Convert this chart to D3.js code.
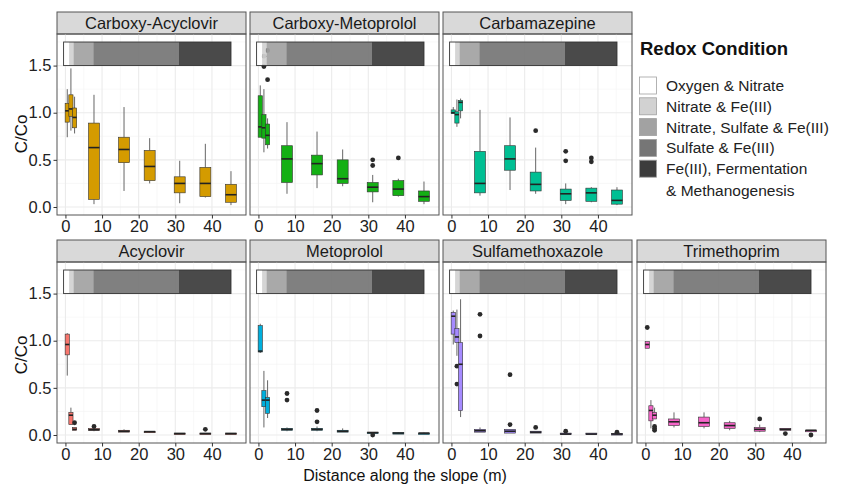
<!DOCTYPE html>
<html>
<head>
<meta charset="utf-8">
<script src="https://cdn.jsdelivr.net/npm/d3@7"></script>
<style>
  body { margin: 0; background: #fff; }
  svg { font-family: "Liberation Sans", Arial, sans-serif; }
</style>
</head>
<body>
<div id="chart"></div>
<script>
// compounds, in facet order
var compounds = ["Carboxy-Acyclovir", "Carboxy-Metoprolol", "Carbamazepine",
  "Acyclovir", "Metoprolol", "Sulfamethoxazole", "Trimethoprim"];

// sampling distances along the slope (m)
var distances = [0.5, 1.5, 2.5, 7.8, 16, 23, 31.2, 38.2, 45.2];

// box stats per distance: [lower whisker, q1, median, q3, upper whisker]
var carboxyAcyclovir = [
  [0.74, 0.90, 1.02, 1.10, 1.25], [0.81, 0.96, 1.04, 1.19, 1.47], [0.78, 0.84, 0.95, 1.05, 1.17],
  [0.03, 0.08, 0.63, 0.89, 1.19], [0.17, 0.47, 0.61, 0.74, 1.06], [0.25, 0.28, 0.43, 0.60, 0.73],
  [0.04, 0.15, 0.25, 0.32, 0.49], [0.10, 0.11, 0.25, 0.42, 0.67], [0.02, 0.05, 0.13, 0.24, 0.38]];
var carboxyMetoprolol = [
  [0.74, 0.74, 0.85, 1.18, 1.29], [0.58, 0.73, 0.84, 0.98, 1.25], [0.62, 0.66, 0.76, 0.88, 0.94],
  [0.14, 0.26, 0.51, 0.65, 0.90], [0.20, 0.34, 0.46, 0.55, 0.80], [0.22, 0.25, 0.30, 0.50, 0.61],
  [0.05, 0.16, 0.21, 0.26, 0.34], [0.11, 0.12, 0.19, 0.28, 0.30], [0.03, 0.06, 0.11, 0.17, 0.27]];
var carbamazepine = [
  [0.99, 0.99, 1.00, 1.03, 1.06], [0.85, 0.89, 0.98, 1.01, 1.14], [0.94, 1.02, 1.11, 1.13, 1.15],
  [0.12, 0.15, 0.25, 0.59, 1.03], [0.18, 0.39, 0.51, 0.65, 0.95], [0.14, 0.17, 0.24, 0.37, 0.63],
  [0.03, 0.07, 0.14, 0.19, 0.25], [0.05, 0.06, 0.15, 0.20, 0.21], [0.02, 0.03, 0.07, 0.18, 0.21]];
var acyclovir = [
  [0.63, 0.85, 0.96, 1.07, 1.08], [0.11, 0.11, 0.21, 0.24, 0.29], [0.05, 0.05, 0.06, 0.08, 0.08],
  [0.04, 0.05, 0.055, 0.07, 0.07], [0.03, 0.03, 0.04, 0.05, 0.06], [0.025, 0.03, 0.035, 0.04, 0.04],
  [0.01, 0.012, 0.015, 0.02, 0.02], [0.01, 0.012, 0.015, 0.02, 0.02], [0.01, 0.01, 0.015, 0.02, 0.02]];
var metoprolol = [
  [0.87, 0.88, 0.89, 1.16, 1.18], [0.08, 0.30, 0.37, 0.47, 0.68], [0.18, 0.23, 0.37, 0.40, 0.58],
  [0.04, 0.05, 0.06, 0.07, 0.08], [0.04, 0.05, 0.06, 0.07, 0.09], [0.03, 0.03, 0.04, 0.05, 0.07],
  [0.015, 0.02, 0.025, 0.03, 0.03], [0.01, 0.015, 0.02, 0.025, 0.03], [0.01, 0.015, 0.02, 0.02, 0.025]];
var sulfamethoxazole = [
  [0.96, 1.07, 1.26, 1.30, 1.32], [0.84, 0.98, 1.04, 1.13, 1.33], [0.19, 0.26, 0.75, 0.98, 1.44],
  [0.03, 0.03, 0.045, 0.06, 0.08], [0.02, 0.02, 0.04, 0.06, 0.06], [0.02, 0.02, 0.03, 0.04, 0.04],
  [0.005, 0.008, 0.01, 0.02, 0.02], [0.005, 0.008, 0.01, 0.02, 0.02], [0.005, 0.007, 0.01, 0.015, 0.02]];
var trimethoprim = [
  [0.92, 0.92, 0.96, 0.99, 0.99], [0.07, 0.15, 0.26, 0.31, 0.37], [0.17, 0.17, 0.21, 0.24, 0.29],
  [0.08, 0.10, 0.14, 0.17, 0.24], [0.07, 0.09, 0.13, 0.19, 0.24], [0.05, 0.07, 0.10, 0.13, 0.15],
  [0.03, 0.04, 0.06, 0.08, 0.11], [0.05, 0.05, 0.06, 0.07, 0.07], [0.04, 0.04, 0.05, 0.05, 0.05]];

// outliers per distance
var carboxyAcyclovirOut = [[], [], [], [], [], [], [], [], []];
var carboxyMetoprololOut = [[], [1.49, 1.60], [1.35, 1.66], [], [], [], [0.50, 0.44], [0.52], []];
var carbamazepineOut = [[], [], [], [], [], [0.81], [0.59, 0.49], [0.52, 0.48], []];
var acyclovirOut = [[], [], [0.13], [0.09], [], [], [], [0.06], []];
var metoprololOut = [[], [], [], [0.44, 0.37], [0.26, 0.14], [], [0.0], [], []];
var sulfamethoxazoleOut = [[], [0.73, 0.54], [], [1.28, 1.05], [0.64, 0.11], [0.08], [0.04], [], [0.03]];
var trimethoprimOut = [[1.14], [], [0.09, 0.07, 0.05], [], [], [], [0.17], [0.015], [0.0]];

// redox zones along the slope
var redoxLabels = ["Oxygen & Nitrate", "Nitrate & Fe(III)", "Nitrate, Sulfate & Fe(III)",
  "Sulfate & Fe(III)", "Fe(III), Fermentation & Methanogenesis"];
var redoxBreaks = [-0.5, 1, 2.2, 7.6, 31, 45.2];
var redoxBand = [1.5, 1.75];

var xTicks = [0, 10, 20, 30, 40];
var yTicks = [0, 0.5, 1, 1.5];

var stats = [carboxyAcyclovir, carboxyMetoprolol, carbamazepine, acyclovir, metoprolol, sulfamethoxazole, trimethoprim];
var outs = [carboxyAcyclovirOut, carboxyMetoprololOut, carbamazepineOut, acyclovirOut, metoprololOut, sulfamethoxazoleOut, trimethoprimOut];

var boxColors = ["#D49B00", "#14B014", "#00BF93", "#F8766D", "#00AFDD", "#A58AFF", "#F564C8"];
var redoxColors = ["#ffffff", "#d2d2d2", "#a2a2a2", "#767676", "#3c3c3c"];

var width = 841, height = 485;
var W = 189, stripH = 22, panelH = 181;
var colX = [57, 250, 443, 637];
var rowTop = [34, 262];

var svg = d3.select("#chart").append("svg")
  .attr("width", width)
  .attr("height", height);

var x = d3.scaleLinear().domain([-2.3, 49.3]).range([0, W]);
var y = d3.scaleLinear().domain([-0.085, 1.835]).range([panelH, 0]);

// box width: narrow where samples are close together
function boxWidth(i) {
  var gaps = [];
  if (i > 0) gaps.push(distances[i] - distances[i - 1]);
  if (i < distances.length - 1) gaps.push(distances[i + 1] - distances[i]);
  return Math.min(3, d3.min(gaps) * 1.15);
}

compounds.forEach(function (name, p) {
  var row = p < 3 ? 0 : 1;
  var col = p < 3 ? p : p - 3;
  var g = svg.append("g")
    .attr("transform", "translate(" + colX[col] + "," + rowTop[row] + ")");

  // strip
  g.append("rect")
    .attr("x", 0).attr("y", -stripH)
    .attr("width", W).attr("height", stripH)
    .attr("fill", "#d9d9d9").attr("stroke", "#555").attr("stroke-width", 1);
  g.append("text")
    .attr("x", W / 2).attr("y", -stripH / 2 + 6)
    .attr("text-anchor", "middle")
    .attr("font-size", 16.5)
    .attr("fill", "#1a1a1a")
    .text(name);

  // grid
  var minorX = d3.range(5, 50, 10), minorY = [0.25, 0.75, 1.25, 1.75];
  g.append("g").selectAll("line.mx").data(minorX).enter().append("line")
    .attr("x1", x).attr("x2", x).attr("y1", 0).attr("y2", panelH)
    .attr("stroke", "#f3f3f3").attr("stroke-width", 0.6);
  g.append("g").selectAll("line.my").data(minorY).enter().append("line")
    .attr("y1", y).attr("y2", y).attr("x1", 0).attr("x2", W)
    .attr("stroke", "#f3f3f3").attr("stroke-width", 0.6);
  g.append("g").selectAll("line.gx").data(xTicks).enter().append("line")
    .attr("x1", x).attr("x2", x).attr("y1", 0).attr("y2", panelH)
    .attr("stroke", "#ebebeb").attr("stroke-width", 1.1);
  g.append("g").selectAll("line.gy").data(yTicks).enter().append("line")
    .attr("y1", y).attr("y2", y).attr("x1", 0).attr("x2", W)
    .attr("stroke", "#ebebeb").attr("stroke-width", 1.1);

  // boxes
  stats[p].forEach(function (s, i) {
    var d = distances[i];
    var bw = boxWidth(i);
    var x0 = x(d - bw / 2), x1 = x(d + bw / 2), cx = x(d);
    var b = g.append("g");
    b.append("line")
      .attr("x1", cx).attr("x2", cx).attr("y1", y(s[0])).attr("y2", y(s[1]))
      .attr("stroke", "#666").attr("stroke-width", 1);
    b.append("line")
      .attr("x1", cx).attr("x2", cx).attr("y1", y(s[3])).attr("y2", y(s[4]))
      .attr("stroke", "#666").attr("stroke-width", 1);
    b.append("rect")
      .attr("x", x0).attr("y", y(s[3]))
      .attr("width", x1 - x0).attr("height", Math.max(1.5, y(s[1]) - y(s[3])))
      .attr("fill", boxColors[p]).attr("stroke", "#333").attr("stroke-width", 0.6);
    b.append("line")
      .attr("x1", x0).attr("x2", x1).attr("y1", y(s[2])).attr("y2", y(s[2]))
      .attr("stroke", "#222").attr("stroke-width", 1.6);
    b.selectAll("circle").data(outs[p][i]).enter().append("circle")
      .attr("cx", cx).attr("cy", y).attr("r", 2.4)
      .attr("fill", "#2a2a2a");
  });

  // redox band on top
  var band = g.append("g");
  redoxColors.forEach(function (c, i) {
    band.append("rect")
      .attr("x", x(redoxBreaks[i]))
      .attr("width", x(redoxBreaks[i + 1]) - x(redoxBreaks[i]))
      .attr("y", y(redoxBand[1]))
      .attr("height", y(redoxBand[0]) - y(redoxBand[1]))
      .attr("fill", c).attr("opacity", 0.93);
  });
  band.append("rect")
    .attr("x", x(redoxBreaks[0]))
    .attr("width", x(redoxBreaks[redoxBreaks.length - 1]) - x(redoxBreaks[0]))
    .attr("y", y(redoxBand[1]))
    .attr("height", y(redoxBand[0]) - y(redoxBand[1]))
    .attr("fill", "none").attr("stroke", "#333").attr("stroke-width", 0.9);

  // panel border
  g.append("rect")
    .attr("width", W).attr("height", panelH)
    .attr("fill", "none").attr("stroke", "#555").attr("stroke-width", 1);

  // x axis
  var xa = g.append("g")
    .attr("transform", "translate(0," + panelH + ")")
    .call(d3.axisBottom(x).tickValues(xTicks).tickSize(3.5).tickPadding(2));
  xa.select(".domain").remove();
  xa.selectAll("line").attr("stroke", "#333");
  xa.selectAll("text").attr("font-size", 16.5).attr("fill", "#222")
    .attr("font-family", "Liberation Sans, Arial, sans-serif");

  // y axis only on the first column
  if (col === 0) {
    var ya = g.append("g")
      .call(d3.axisLeft(y).tickValues(yTicks).tickFormat(d3.format(".1f")).tickSize(3.5).tickPadding(2));
    ya.select(".domain").remove();
    ya.selectAll("line").attr("stroke", "#333");
    ya.selectAll("text").attr("font-size", 16.5).attr("fill", "#222")
      .attr("font-family", "Liberation Sans, Arial, sans-serif");
  }
});

// axis titles
[134, 355].forEach(function (cy) {
  svg.append("text")
    .attr("transform", "translate(27," + cy + ") rotate(-90)")
    .attr("text-anchor", "middle")
    .attr("font-size", 17)
    .attr("fill", "#111")
    .text("C/Co");
});
svg.append("text")
  .attr("x", 405).attr("y", 481)
  .attr("text-anchor", "middle")
  .attr("font-size", 16)
  .attr("fill", "#111")
  .text("Distance along the slope (m)");

// legend
var legend = svg.append("g").attr("transform", "translate(639,0)");
legend.append("text")
  .attr("x", 1).attr("y", 55)
  .attr("font-size", 18.5).attr("font-weight", "bold")
  .attr("fill", "#111")
  .text("Redox Condition");
redoxLabels.forEach(function (lab, i) {
  var ky = 77 + i * 20.8;
  legend.append("rect")
    .attr("x", 0.5).attr("y", ky)
    .attr("width", 17).attr("height", 17)
    .attr("fill", redoxColors[i]).attr("stroke", "#a0a0a0").attr("stroke-width", 0.8);
  var lines = lab === "Fe(III), Fermentation & Methanogenesis"
    ? ["Fe(III), Fermentation", "& Methanogenesis"] : [lab];
  lines.forEach(function (t, j) {
    legend.append("text")
      .attr("x", 27).attr("y", ky + 14 + j * 22)
      .attr("font-size", 15.5)
      .attr("fill", "#222")
      .text(t);
  });
});
</script>
</body>
</html>
